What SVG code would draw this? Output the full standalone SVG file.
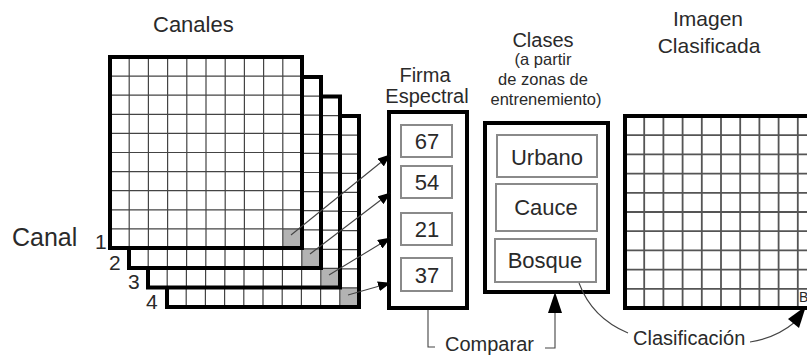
<svg xmlns="http://www.w3.org/2000/svg" xmlns:xlink="http://www.w3.org/1999/xlink" width="807" height="355" viewBox="0 0 807 355">
<style>
text{font-family:"Liberation Sans",Arial,sans-serif;fill:#2a2a2a}
.t20{font-size:20px}
.t22{font-size:22px}
.sm{font-size:16.5px}
.mid{text-anchor:middle}
.frame{fill:#fff;stroke:#000;stroke-width:4}
.inner{fill:#fff;stroke:#8a8a8a;stroke-width:2}
.conn{fill:none;stroke:#444;stroke-width:1.1}
.gl{stroke:#444;stroke-width:1.2;fill:none}
.gl2{stroke:#555;stroke-width:1.8;fill:none}
</style>
<defs>
<marker id="ah" markerUnits="userSpaceOnUse" markerWidth="13" markerHeight="10" refX="12" refY="5" orient="auto">
<path d="M0,0 L13,5 L0,10 z" fill="#000"/>
</marker>
<g id="chan">
<rect width="192" height="191" fill="#fff"/>
<rect x="172.8" y="171.9" width="19.2" height="19.1" fill="#b3b3b3"/>
<path class="gl" d="M19.2 0V191M38.4 0V191M57.6 0V191M76.8 0V191M96 0V191M115.2 0V191M134.4 0V191M153.6 0V191M172.8 0V191M0 19.1H192M0 38.2H192M0 57.3H192M0 76.4H192M0 95.5H192M0 114.6H192M0 133.7H192M0 152.8H192M0 171.9H192"/>
<rect width="192" height="191" fill="none" stroke="#000" stroke-width="4"/>
</g>
</defs>

<g id="canales">
<text class="t22" x="153" y="32">Canales</text>
<text x="12" y="246" style="font-size:25px">Canal</text>
<use xlink:href="#chan" transform="translate(167,116)"/>
<use xlink:href="#chan" transform="translate(148,96.5)"/>
<use xlink:href="#chan" transform="translate(129,77)"/>
<use xlink:href="#chan" transform="translate(110,57)"/>
<text x="95" y="249" style="font-size:21px">1</text>
<text x="109" y="270" style="font-size:21px">2</text>
<text x="128" y="289" style="font-size:21px">3</text>
<text x="146" y="309" style="font-size:21px">4</text>
</g>

<g id="firma">
<text class="t20 mid" x="425" y="82">Firma</text>
<text class="t20 mid" x="427" y="103">Espectral</text>
<rect class="frame" x="389" y="112" width="78" height="196"/>
<rect class="inner" x="401" y="125" width="51" height="32"/>
<rect class="inner" x="401" y="166" width="51" height="32"/>
<rect class="inner" x="401" y="213" width="51" height="32"/>
<rect class="inner" x="401" y="258" width="51" height="33"/>
<text class="t22 mid" x="427" y="149">67</text>
<text class="t22 mid" x="427" y="190">54</text>
<text class="t22 mid" x="427" y="237">21</text>
<text class="t22 mid" x="427" y="283">37</text>
</g>

<g id="clases">
<text class="t20 mid" x="543" y="47">Clases</text>
<text class="sm mid" x="543" y="65">(a partir</text>
<text class="sm mid" x="543" y="85">de zonas de</text>
<text class="sm mid" x="546" y="105">entrenemiento)</text>
<rect class="frame" x="485" y="123" width="123" height="169"/>
<rect class="inner" x="497" y="135" width="100" height="42"/>
<rect class="inner" x="496" y="184" width="101" height="47"/>
<rect class="inner" x="495" y="239" width="101" height="43"/>
<text class="t22 mid" x="547" y="165">Urbano</text>
<text class="t22 mid" x="546" y="215">Cauce</text>
<text class="t22 mid" x="545" y="268">Bosque</text>
</g>

<g id="imagen">
<text class="t20 mid" x="708" y="26" style="font-size:21px">Imagen</text>
<text class="t20 mid" x="709" y="53" style="font-size:21px">Clasificada</text>
<rect x="625" y="116" width="192" height="192" fill="#fff"/>
<path class="gl2" d="M644.2 116V308M663.4 116V308M682.6 116V308M701.8 116V308M721 116V308M740.2 116V308M759.4 116V308M778.6 116V308M797.8 116V308M625 135.2H817M625 154.4H817M625 173.6H817M625 192.8H817M625 212H817M625 231.2H817M625 250.4H817M625 269.6H817M625 288.8H817"/>
<rect x="625" y="116" width="192" height="192" fill="none" stroke="#000" stroke-width="4"/>
<text x="799" y="302" style="font-size:14px">B</text>
</g>

<g id="connectors">
<path class="conn" d="M291 235 L390 155" marker-end="url(#ah)"/>
<path class="conn" d="M310 254 L390 193" marker-end="url(#ah)"/>
<path class="conn" d="M329 275 L390 238" marker-end="url(#ah)"/>
<path class="conn" d="M348 295 L390 283" marker-end="url(#ah)"/>
<path class="conn" d="M428 310 V347 H435"/>
<path class="conn" d="M545 348 H555 V310"/>
<polygon points="555,292 548,313 562,313" fill="#000"/>
<path class="conn" d="M579 283 Q592 318 628 333"/>
<path class="conn" d="M750 342 Q776 338 795 322"/>
<polygon points="806,306 788,319 799,328" fill="#000"/>
</g>

<g id="labels">
<text class="t20" x="445" y="351">Comparar</text>
<text class="t20" x="633" y="345">Clasificación</text>
</g>
</svg>
